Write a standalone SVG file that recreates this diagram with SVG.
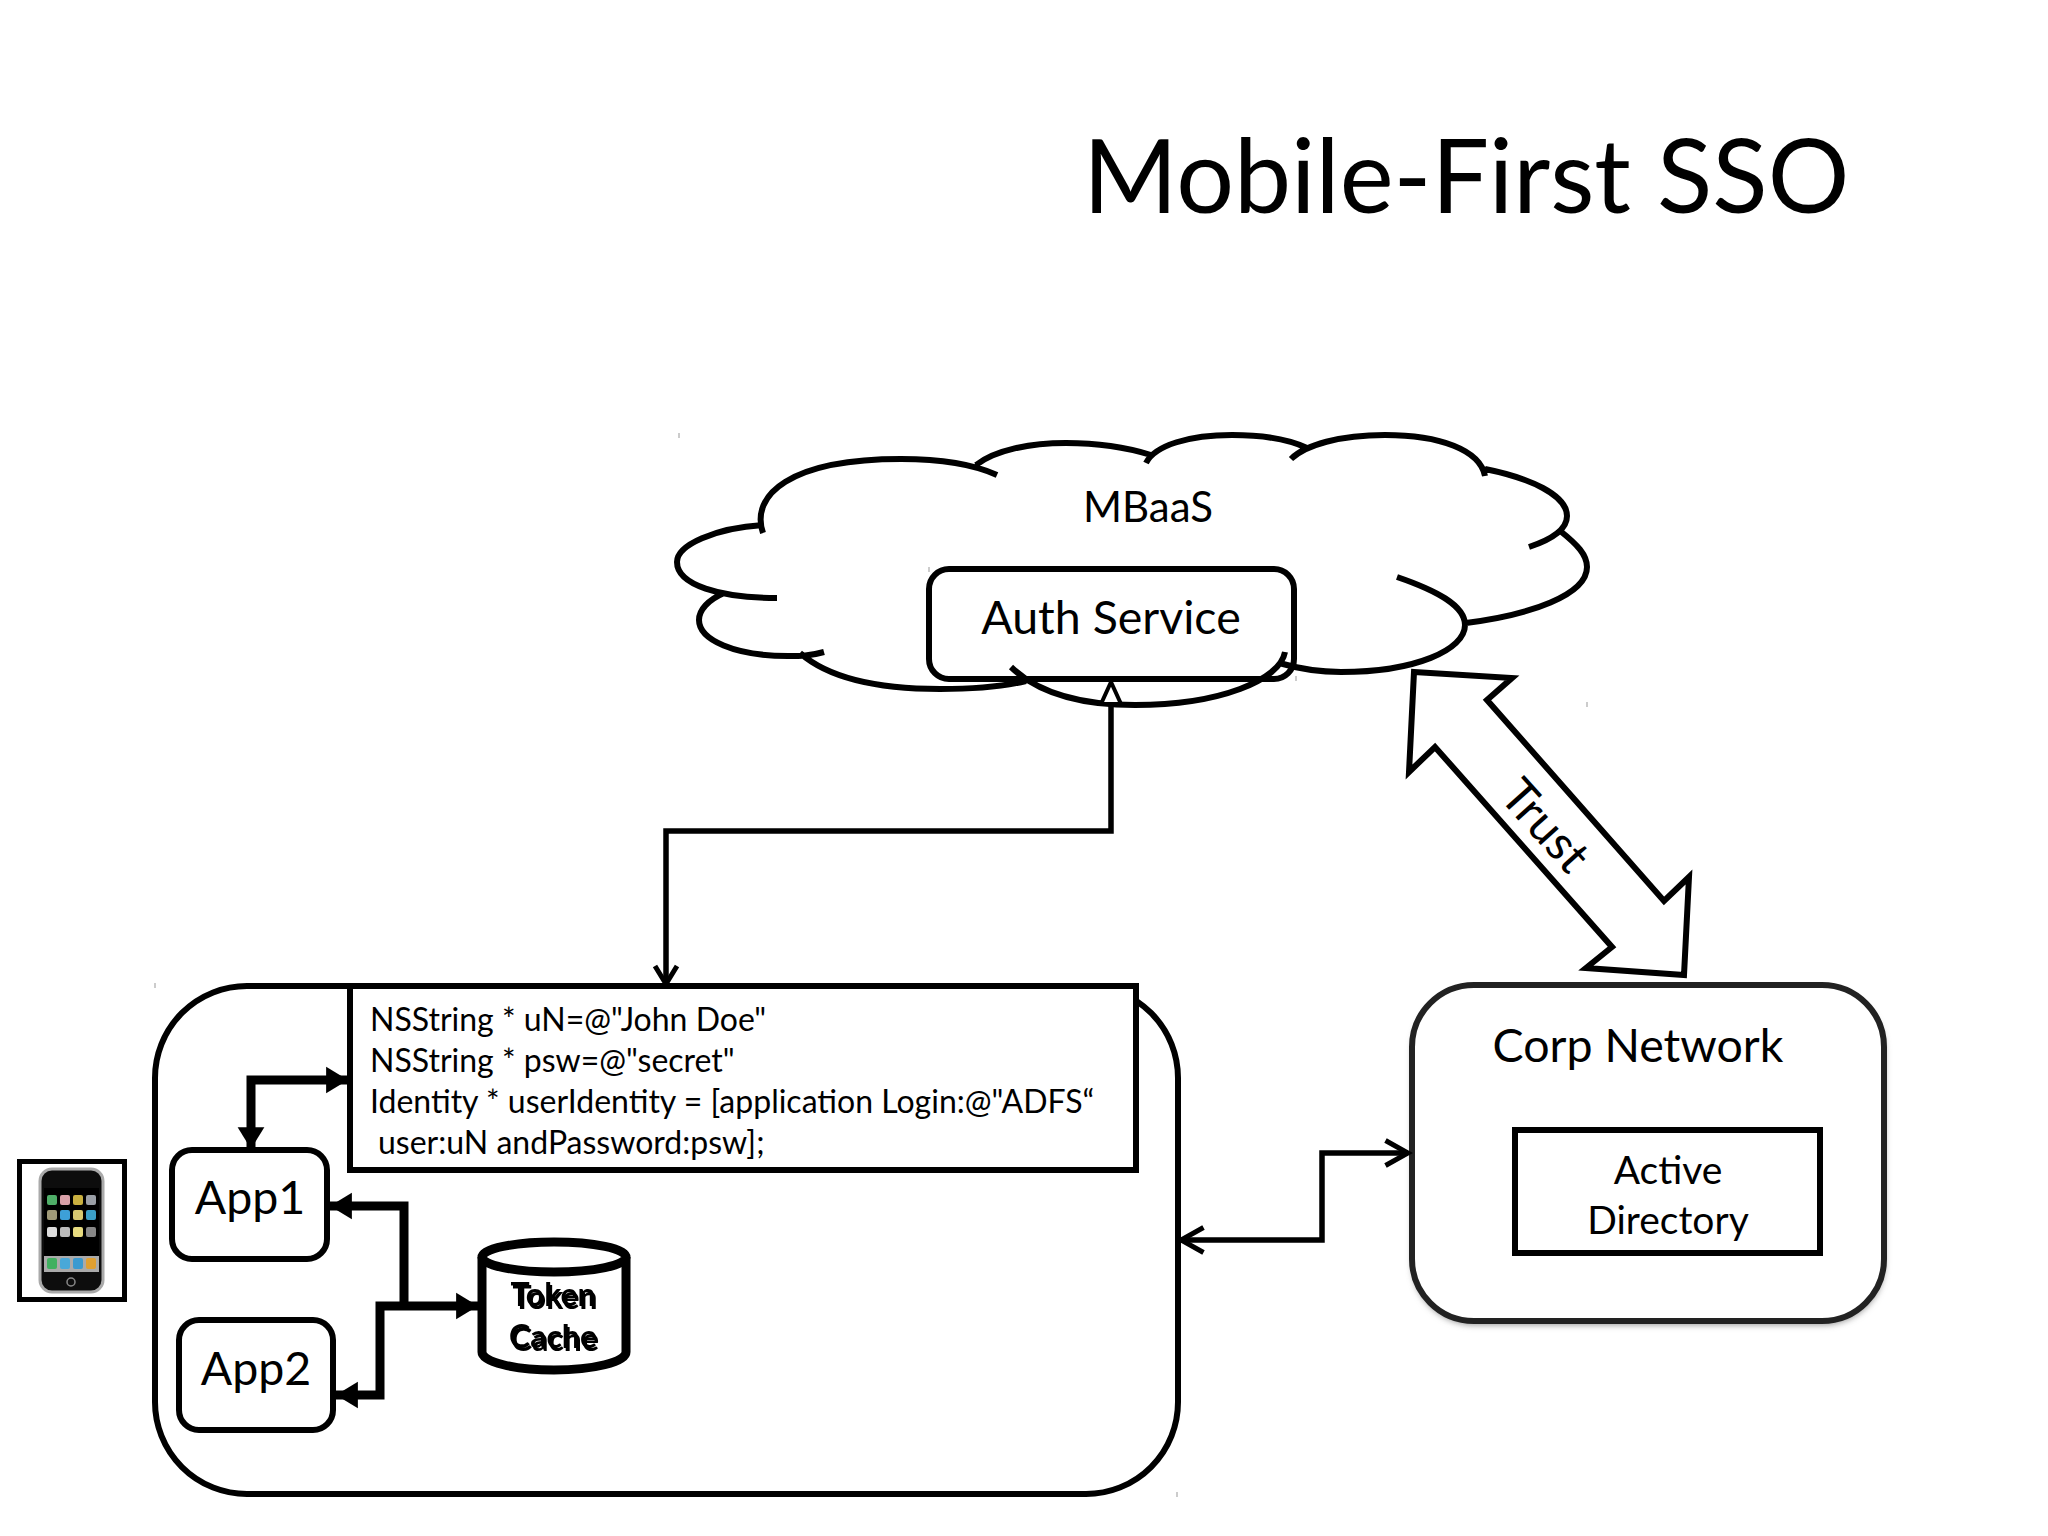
<svg xmlns="http://www.w3.org/2000/svg" width="2048" height="1536" viewBox="0 0 2048 1536">
<style>
text{font-family:"Lato","Liberation Sans",sans-serif;fill:#000}
.box{fill:#fff;stroke:#000;stroke-width:6}
.cl{fill:none;stroke:#000;stroke-width:6}
.thin{fill:none;stroke:#000;stroke-width:5.500}
.thick{fill:none;stroke:#000;stroke-width:9}
.tick{fill:none;stroke:#999;stroke-width:1}
.m{text-anchor:middle}
</style>
<defs>
<marker id="open" markerUnits="userSpaceOnUse" markerWidth="30" markerHeight="30" refX="20" refY="12" orient="auto-start-reverse" viewBox="0 0 24 24"><path d="M2,2 L20,12 L2,22" fill="none" stroke="#000" stroke-width="4"/></marker>
<marker id="tri" markerUnits="userSpaceOnUse" markerWidth="34" markerHeight="34" refX="24" refY="14" orient="auto-start-reverse" viewBox="0 0 28 28"><path d="M6,3 L24,14 L6,25 Z" fill="#000"/></marker>
<filter id="sh" x="-5%" y="-5%" width="110%" height="115%"><feGaussianBlur stdDeviation="3"/></filter>
<filter id="dbl" x="-10%" y="-20%" width="120%" height="140%"><feOffset in="SourceGraphic" dx="-2" dy="-3" result="o"/><feMerge><feMergeNode in="o"/><feMergeNode in="SourceGraphic"/></feMerge></filter>
<filter id="soft" x="-5%" y="-5%" width="110%" height="110%"><feGaussianBlur stdDeviation="0.6"/></filter>
</defs>
<rect width="2048" height="1536" fill="#fff"/>
<text id="title" x="1083" y="213" font-size="102">Mobile-First SSO</text>
<g id="ticks"><path class="tick" d="M679,433v5M929,567v5M1296,676v5M1587,702v5M1632,1018v5M155,983v5M173,1149v5M327,1257v5M179,1319v5M333,1428v5M480,1238v5M629,1369v5M1177,1492v5"/></g>
<g id="auth-service"><rect class="box" x="929" y="569" width="365" height="110" rx="20"/><text class="m" x="1111" y="634" font-size="46.500">Auth Service</text></g>
<g id="mbaas"><path class="cl" d="M763,533C750,495 790,459 901,459C945,459 975,465 997,475M976,465C995,450 1030,443 1066,443C1105,443 1135,450 1151,455M1146,463C1155,445 1190,435 1232,435C1265,435 1290,440 1307,448M1291,459C1305,445 1340,435 1385,435C1440,435 1480,450 1485,476M1485,469C1530,478 1567,495 1567,516C1567,530 1550,540 1529,547M1559,530C1578,545 1587,555 1587,567C1587,595 1530,615 1466,623M1397,577C1435,590 1465,605 1465,625C1465,650 1415,672 1341,672C1320,672 1300,669 1279,663M1285,652C1280,680 1220,705 1135,705C1075,705 1035,690 1011,667M1026,681C1005,686 975,689 940,689C870,689 825,675 800,653M824,652C810,656 800,656 788,656C735,656 699,640 699,620C699,610 708,600 724,593M777,598C720,598 677,585 677,562C677,545 715,528 763,525"/><text class="m" x="1148" y="522" font-size="42">MBaaS</text></g>
<g id="device"><rect class="box" x="155" y="986" width="1023" height="508" rx="92"/></g>
<g id="code"><rect class="box" x="350" y="986" width="786" height="184"/>
<text x="370" y="1031" font-size="32">NSString * uN=@"John Doe"</text>
<text x="370" y="1072" font-size="32">NSString * psw=@"secret"</text>
<text x="370" y="1113" font-size="32">Identity * userIdentity = [application Login:@"ADFS“</text>
<text x="378" y="1154" font-size="32">user:uN andPassword:psw];</text></g>
<g id="app1"><rect class="box" x="172" y="1150" width="155" height="109" rx="20"/><text class="m" x="250" y="1214" font-size="46.500">App1</text></g>
<g id="app2"><rect class="box" x="179" y="1320" width="154" height="110" rx="20"/><text class="m" x="256" y="1385" font-size="46.500">App2</text></g>
<g id="token-cache">
<path d="M482,1257V1352C482,1362 515,1370 554,1370C593,1370 626,1362 626,1352V1257" fill="#fff" stroke="#000" stroke-width="9"/>
<ellipse cx="554" cy="1257" rx="72" ry="15" fill="#fff" stroke="#000" stroke-width="9"/>
<text class="m" x="555" y="1309" font-size="32" font-weight="bold" filter="url(#dbl)">Token</text>
<text class="m" x="555" y="1351" font-size="32" font-weight="bold" filter="url(#dbl)">Cache</text></g>
<g id="phone">
<rect x="19.500" y="1161.500" width="105" height="138" fill="#fff" stroke="#000" stroke-width="5"/>
<g filter="url(#soft)">
<rect x="40" y="1169" width="63" height="123" rx="12" fill="#111" stroke="#aaa" stroke-width="3"/>
<rect x="44" y="1188" width="55" height="84" fill="#050505"/>
<rect x="47" y="1195" width="10" height="10" rx="2" fill="#4fae68"/><rect x="60" y="1195" width="10" height="10" rx="2" fill="#d8a0a8"/><rect x="73" y="1195" width="10" height="10" rx="2" fill="#c9b040"/><rect x="86" y="1195" width="10" height="10" rx="2" fill="#9a9fa6"/><rect x="47" y="1210" width="10" height="10" rx="2" fill="#a09a78"/><rect x="60" y="1210" width="10" height="10" rx="2" fill="#3ea0d8"/><rect x="73" y="1210" width="10" height="10" rx="2" fill="#d8c870"/><rect x="86" y="1210" width="10" height="10" rx="2" fill="#3a9fc8"/><rect x="47" y="1227" width="10" height="10" rx="2" fill="#ddd"/><rect x="60" y="1227" width="10" height="10" rx="2" fill="#bbb"/><rect x="73" y="1227" width="10" height="10" rx="2" fill="#e8dc80"/><rect x="86" y="1227" width="10" height="10" rx="2" fill="#888"/>
<rect x="44" y="1256" width="55" height="16" fill="#aaa"/>
<rect x="47" y="1258" width="10" height="11" rx="2" fill="#3fb060"/><rect x="60" y="1258" width="10" height="11" rx="2" fill="#4aa8d8"/><rect x="73" y="1258" width="10" height="11" rx="2" fill="#3a9ad0"/><rect x="86" y="1258" width="10" height="11" rx="2" fill="#e0a030"/>
<circle cx="71" cy="1282" r="4" fill="none" stroke="#888" stroke-width="1.500"/>
</g></g>
<g id="corp-network"><rect x="1412" y="990" width="473" height="335" rx="62" fill="#999" filter="url(#sh)"/><rect x="1412" y="985" width="472" height="336" rx="62" fill="#fff" stroke="#222" stroke-width="6"/><text class="m" x="1638" y="1062" font-size="46.500">Corp Network</text></g>
<g id="active-directory"><rect class="box" x="1515" y="1130" width="305" height="123"/><text class="m" x="1668" y="1184" font-size="39">Active</text><text class="m" x="1668" y="1234" font-size="39">Directory</text></g>
<g id="trust"><path d="M1414,672L1512,678L1487,700L1664,901L1689,877L1684,975L1586,968L1612,947L1435,747L1409,772Z" fill="#fff" stroke="#000" stroke-width="6"/><text class="m" x="1545" y="842" font-size="48" transform="rotate(48 1545 826)">Trust</text></g>
<g id="connectors">
<path class="thin" d="M666,984V831H1111V705"/>
<path d="M1111,682L1121,704H1101Z" fill="#fff" stroke="#000" stroke-width="4"/>
<path d="M655,966L666,984L677,966" fill="none" stroke="#000" stroke-width="5"/>
<path class="thin" d="M1181,1240H1322V1153H1408" marker-start="url(#open)" marker-end="url(#open)"/>
<path class="thick" d="M348,1080H251V1149" marker-start="url(#tri)" marker-end="url(#tri)"/>
<path class="thick" d="M330,1206H404V1306"  marker-start="url(#tri)"/>
<path class="thick" d="M478,1306H380V1395H336" marker-start="url(#tri)" marker-end="url(#tri)"/>
</g>
</svg>
